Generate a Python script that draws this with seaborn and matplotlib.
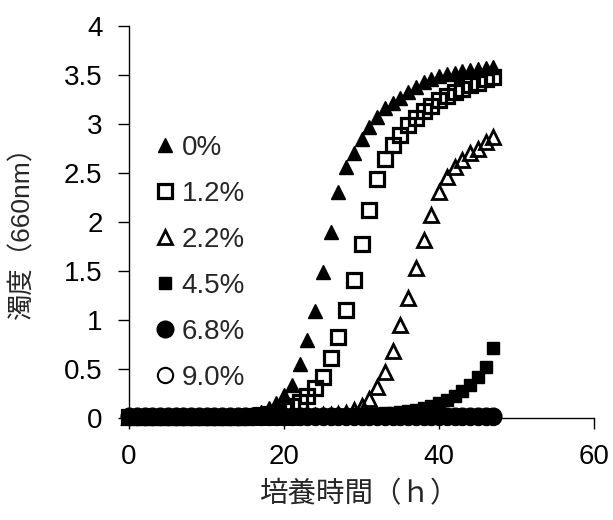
import matplotlib
matplotlib.use("Agg")
import matplotlib.pyplot as plt
import pandas as pd
import seaborn as sns

# Culture time (h) and turbidity (OD 660 nm) for each salt concentration
hours = list(range(48))
conc_labels = ["0%", "1.2%", "2.2%", "4.5%", "6.8%", "9.0%"]

od_0 = [0.01, 0.01, 0.01, 0.01, 0.01, 0.01, 0.01, 0.01, 0.01, 0.01, 0.01, 0.01,
        0.01, 0.02, 0.02, 0.03, 0.04, 0.06, 0.10, 0.15, 0.23, 0.34, 0.55, 0.80,
        1.09, 1.49, 1.90, 2.31, 2.56, 2.70, 2.85, 2.97, 3.07, 3.16, 3.21, 3.27,
        3.33, 3.38, 3.43, 3.46, 3.49, 3.51, 3.52, 3.54, 3.55, 3.56, 3.57, 3.58]
od_12 = [0.01, 0.01, 0.01, 0.01, 0.01, 0.01, 0.01, 0.01, 0.01, 0.01, 0.01, 0.01,
         0.01, 0.01, 0.01, 0.01, 0.02, 0.03, 0.04, 0.05, 0.08, 0.12, 0.16, 0.22,
         0.31, 0.42, 0.61, 0.83, 1.10, 1.41, 1.78, 2.12, 2.44, 2.64, 2.79, 2.89,
         2.99, 3.06, 3.13, 3.18, 3.24, 3.29, 3.33, 3.36, 3.40, 3.42, 3.46, 3.48]
od_22 = [0.01, 0.01, 0.01, 0.01, 0.01, 0.01, 0.01, 0.01, 0.01, 0.01, 0.01, 0.01,
         0.01, 0.01, 0.01, 0.01, 0.01, 0.01, 0.01, 0.01, 0.01, 0.01, 0.02, 0.02,
         0.02, 0.03, 0.03, 0.04, 0.05, 0.08, 0.12, 0.19, 0.32, 0.47, 0.68, 0.95,
         1.22, 1.53, 1.82, 2.07, 2.31, 2.46, 2.56, 2.63, 2.70, 2.75, 2.82, 2.87]
od_45 = [0.01, 0.01, 0.01, 0.01, 0.01, 0.01, 0.01, 0.01, 0.01, 0.01, 0.01, 0.01,
         0.01, 0.01, 0.01, 0.01, 0.01, 0.01, 0.01, 0.01, 0.02, 0.02, 0.02, 0.02,
         0.02, 0.02, 0.03, 0.03, 0.03, 0.03, 0.03, 0.04, 0.04, 0.05, 0.05, 0.06,
         0.07, 0.08, 0.10, 0.12, 0.15, 0.18, 0.22, 0.28, 0.34, 0.42, 0.52, 0.71]
od_68 = [0.02, 0.02, 0.02, 0.02, 0.02, 0.02, 0.02, 0.02, 0.02, 0.02, 0.02, 0.02,
         0.02, 0.02, 0.02, 0.02, 0.02, 0.02, 0.02, 0.02, 0.02, 0.02, 0.02, 0.02,
         0.02, 0.02, 0.02, 0.02, 0.02, 0.02, 0.02, 0.02, 0.02, 0.02, 0.02, 0.02,
         0.02, 0.02, 0.02, 0.02, 0.02, 0.02, 0.02, 0.02, 0.02, 0.02, 0.02, 0.02]
od_90 = [0.01, 0.01, 0.01, 0.01, 0.01, 0.01, 0.01, 0.01, 0.01, 0.01, 0.01, 0.01,
         0.01, 0.01, 0.01, 0.01, 0.01, 0.01, 0.01, 0.01, 0.01, 0.01, 0.01, 0.01,
         0.01, 0.01, 0.01, 0.01, 0.01, 0.01, 0.01, 0.01, 0.01, 0.01, 0.01, 0.01,
         0.01, 0.01, 0.01, 0.01, 0.01, 0.01, 0.01, 0.01, 0.01, 0.01, 0.01, 0.01]

x_ticks = [0, 20, 40, 60]
y_ticks = [0, 0.5, 1, 1.5, 2, 2.5, 3, 3.5, 4]
y_tick_labels = ["0", "0.5", "1", "1.5", "2", "2.5", "3", "3.5", "4"]

series = [od_0, od_12, od_22, od_45, od_68, od_90]
frames = [pd.DataFrame({"hours": hours, "od": vals, "conc": lab})
          for lab, vals in zip(conc_labels, series)]
df = pd.concat(frames, ignore_index=True)

# marker style per concentration (open markers have no fill)
styles = {
    "0%":   dict(marker="^", ms=9.5, mfc="black", mec="black", mew=1.0),
    "1.2%": dict(marker="s", ms=9.5, mfc="none", mec="black", mew=2.3),
    "2.2%": dict(marker="^", ms=10.0, mfc="none", mec="black", mew=2.0),
    "4.5%": dict(marker="s", ms=9.0, mfc="black", mec="black", mew=1.0),
    "6.8%": dict(marker="o", ms=12.0, mfc="black", mec="black", mew=1.0),
    "9.0%": dict(marker="o", ms=11.0, mfc="none", mec="black", mew=1.5),
}

sns.set_style("ticks")
plt.rcParams["font.family"] = ["Liberation Sans", "Noto Sans CJK JP"]

fig = plt.figure(figsize=(6.13, 5.2), dpi=100)
ax = fig.add_axes([129 / 613, 1 - 418 / 520, 465 / 613, 392 / 520])

draw_order = ["0%", "1.2%", "2.2%", "4.5%", "9.0%", "6.8%"]
for lab in draw_order:
    sub = df[df["conc"] == lab]
    sns.lineplot(data=sub, x="hours", y="od", ax=ax, color="black",
                 linestyle="none", label=lab, clip_on=False, zorder=3,
                 **styles[lab])

ax.set_xlim(0, 60)
ax.set_ylim(0, 4)
ax.set_xticks(x_ticks)
ax.set_yticks(y_ticks)
ax.set_yticklabels(y_tick_labels)
ax.tick_params(axis="both", direction="out", length=8, width=1,
               labelsize=20, color="black", labelcolor="black", pad=11)
for side in ["top", "right"]:
    ax.spines[side].set_visible(False)
for side in ["left", "bottom"]:
    ax.spines[side].set_color("black")
    ax.spines[side].set_linewidth(1)

ax.set_ylabel("濁度（660nm）", fontsize=19, va="center")
ax.yaxis.set_label_coords(-0.230, 0.49)
ax.set_xlabel("培養時間（ｈ）", fontsize=20.5, va="center")
ax.xaxis.set_label_coords(0.495, -0.196)

handles, labels = ax.get_legend_handles_labels()
order = [labels.index(l) for l in conc_labels]
ax.legend([handles[i] for i in order], [labels[i] for i in order],
          loc="upper left", bbox_to_anchor=(0.0596, 0.723), frameon=False,
          fontsize=20, handlelength=0.6, handletextpad=0.3,
          labelspacing=0.72, borderaxespad=0, borderpad=0)

fig.savefig("out.png", dpi=100, facecolor="white")
